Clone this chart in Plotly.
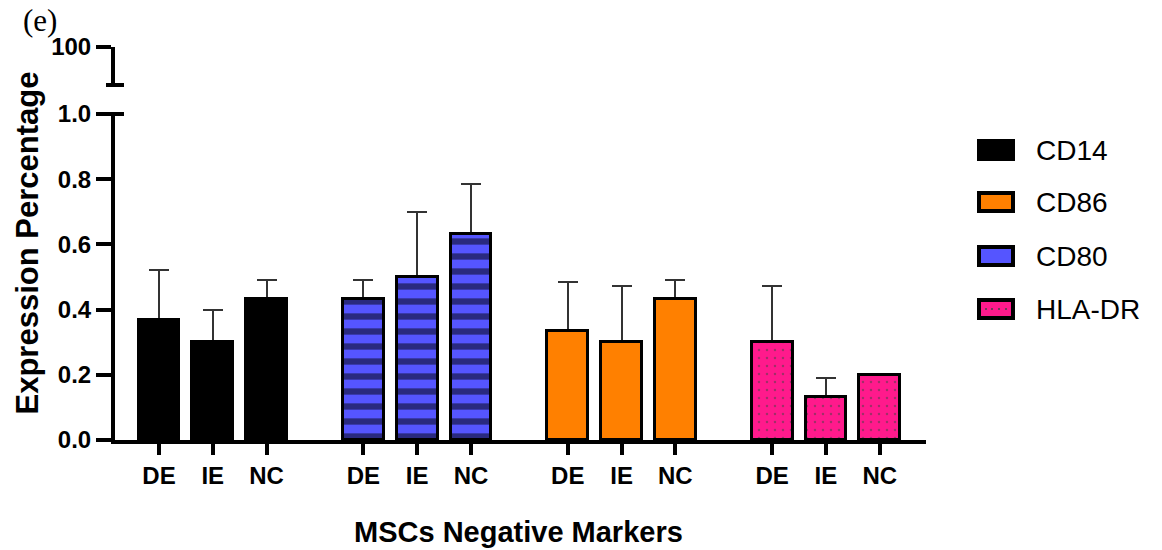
import plotly.graph_objects as go
import numpy as np

markers = ["CD14", "CD80", "CD86", "HLA-DR"]
conditions = ["DE", "IE", "NC"]
cd14_mean = [0.367, 0.300, 0.433]
cd14_err = [0.153, 0.100, 0.057]
cd80_mean = [0.433, 0.500, 0.633]
cd80_err = [0.057, 0.200, 0.153]
cd86_mean = [0.333, 0.300, 0.433]
cd86_err = [0.153, 0.173, 0.057]
hladr_mean = [0.300, 0.133, 0.200]
hladr_err = [0.173, 0.057, None]

means = [cd14_mean, cd80_mean, cd86_mean, hladr_mean]
errs = [cd14_err, cd80_err, cd86_err, hladr_err]
colors = ["#000000", "#5555FF", "#FF8000", "#FF1A8C"]
patterns = [
    dict(shape=""),
    dict(shape="-", fgcolor="#000000", bgcolor="#5555FF", size=15, solidity=0.42),
    dict(shape=""),
    dict(shape=".", fgcolor="#444444", bgcolor="#FF1A8C", size=8, solidity=0.08),
]

GROUP_STRIDE = 3.8
BAR_W = 0.76
FONT = "Liberation Sans, Arial, sans-serif"

fig = go.Figure()
tickvals, ticktext = [], []
for g, (name, m, e, c, p) in enumerate(zip(markers, means, errs, colors, patterns)):
    xs = [g * GROUP_STRIDE + i for i in range(len(conditions))]
    tickvals += xs
    ticktext += conditions
    # error bars (drawn first, real bars drawn on top hide the lower cap)
    fig.add_trace(go.Bar(
        x=xs, y=m, width=BAR_W,
        marker=dict(color="rgba(0,0,0,0)", line=dict(width=0)),
        error_y=dict(type="data", symmetric=False,
                     array=[np.nan if v is None else v for v in e],
                     arrayminus=[0, 0, 0], color="#333333", thickness=2, width=10),
        showlegend=False, hoverinfo="skip",
    ))
    fig.add_trace(go.Bar(
        x=xs, y=m, name=name, width=BAR_W,
        marker=dict(color=c, line=dict(color="#000000", width=3), pattern=p),
        showlegend=False,
    ))

# invisible anchor so the upper (broken) axis segment is rendered
fig.add_trace(go.Scatter(x=[0], y=[95], yaxis="y2", mode="markers",
                         marker=dict(opacity=0), showlegend=False, hoverinfo="skip"))

L, R, T, B = 115, 236, 47, 110
W, H = 1162, 550
pw, ph = W - L - R, H - T - B
lower_top = (440 - 114) / ph
upper_bot = (440 - 85) / ph

axis_common = dict(showline=True, linecolor="black", linewidth=4,
                   ticks="outside", tickwidth=4, tickcolor="black",
                   showgrid=False, zeroline=False,
                   tickfont=dict(family=FONT, size=24, color="black", weight="bold"))

fig.update_layout(
    width=W, height=H,
    margin=dict(l=L, r=R, t=T, b=B),
    plot_bgcolor="white", paper_bgcolor="white",
    barmode="overlay", bargap=0,
    xaxis=dict(range=[-0.818, 14.26], tickvals=tickvals, ticktext=ticktext,
               ticklen=11, **axis_common),
    yaxis=dict(domain=[0, lower_top], range=[0, 1.0],
               tickvals=[0, 0.2, 0.4, 0.6, 0.8, 1.0],
               ticktext=["0.0", "0.2", "0.4", "0.6", "0.8", "1.0"],
               ticklen=15, **axis_common),
    yaxis2=dict(domain=[upper_bot, 1.0], range=[90, 100], anchor="x",
                tickvals=[100], ticktext=["100"], ticklen=15, **axis_common),
)

shapes = []
bx = 9 / pw
for yv in [upper_bot, lower_top]:
    shapes.append(dict(type="line", xref="paper", yref="paper", x0=-bx, x1=bx, y0=yv, y1=yv,
                       line=dict(color="black", width=4)))

legend_y = [150, 202, 256, 309]
legend_fill = ["#000000", "#FF8000", "#5555FF", "#FF1A8C"]
legend_names = ["CD14", "CD86", "CD80", "HLA-DR"]
annotations = []


def px_x(x):
    return (x - L) / pw


def px_y(y):
    return (H - B - y) / ph


for yc, fc, nm in zip(legend_y, legend_fill, legend_names):
    shapes.append(dict(type="rect", xref="paper", yref="paper",
                       x0=px_x(979), x1=px_x(1013), y0=px_y(yc + 9), y1=px_y(yc - 9),
                       fillcolor=fc, line=dict(color="black", width=4)))
    annotations.append(dict(text=nm, xref="paper", yref="paper", x=px_x(1034), y=px_y(yc),
                            xanchor="left", yanchor="middle", showarrow=False,
                            font=dict(family=FONT, size=28, color="black")))
for dx in [986, 992, 999, 1006]:
    shapes.append(dict(type="circle", xref="paper", yref="paper",
                       x0=px_x(dx - 1), x1=px_x(dx + 1), y0=px_y(309 + 1), y1=px_y(309 - 1),
                       fillcolor="#444444", line=dict(width=0)))

annotations.append(dict(text="Expression Percentage", xref="paper", yref="paper",
                        x=px_x(27), y=0.5, textangle=-90, showarrow=False,
                        xanchor="center", yanchor="middle",
                        font=dict(family=FONT, size=31, color="black", weight="bold")))
annotations.append(dict(text="MSCs Negative Markers", xref="paper", yref="paper",
                        x=px_x(518), y=px_y(532), showarrow=False,
                        xanchor="center", yanchor="middle",
                        font=dict(family=FONT, size=29, color="black", weight="bold")))
annotations.append(dict(text="(e)", xref="paper", yref="paper",
                        x=px_x(21), y=px_y(21), showarrow=False,
                        xanchor="left", yanchor="middle",
                        font=dict(family="Liberation Serif, Times New Roman, serif", size=31, color="black")))

fig.update_layout(shapes=shapes, annotations=annotations)
fig.write_html("out.html")
